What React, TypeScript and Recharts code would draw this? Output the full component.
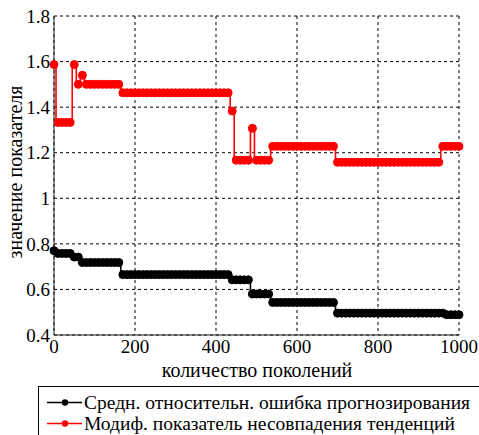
import React from 'react';
import { LineChart, Line, XAxis, YAxis, CartesianGrid, Legend } from 'recharts';

const FONT = 'Liberation Serif';
const TICK_FS = 19;
const LABEL_FS = 20;
const LEGEND_FS = 19.5;

// generation numbers (x categories)
const GENERATIONS = [
  0, 10, 20, 30, 40, 50, 60, 70, 80, 90,
  100, 110, 120, 130, 140, 150, 160, 170, 180, 190,
  200, 210, 220, 230, 240, 250, 260, 270, 280, 290,
  300, 310, 320, 330, 340, 350, 360, 370, 380, 390,
  400, 410, 420, 430, 440, 450, 460, 470, 480, 490,
  500, 510, 520, 530, 540, 550, 560, 570, 580, 590,
  600, 610, 620, 630, 640, 650, 660, 670, 680, 690,
  700, 710, 720, 730, 740, 750, 760, 770, 780, 790,
  800, 810, 820, 830, 840, 850, 860, 870, 880, 890,
  900, 910, 920, 930, 940, 950, 960, 970, 980, 990,
  1000,
];

// Средн. относительн. ошибка прогнозирования (black)
const ERROR_VALUES = [
  0.77, 0.758, 0.758, 0.758, 0.758, 0.742, 0.742, 0.718, 0.718, 0.718,
  0.718, 0.718, 0.718, 0.718, 0.718, 0.718, 0.718, 0.665, 0.665, 0.665,
  0.665, 0.665, 0.665, 0.665, 0.665, 0.665, 0.665, 0.665, 0.665, 0.665,
  0.665, 0.665, 0.665, 0.665, 0.665, 0.665, 0.665, 0.665, 0.665, 0.665,
  0.665, 0.665, 0.665, 0.665, 0.642, 0.642, 0.642, 0.642, 0.642, 0.58,
  0.58, 0.58, 0.58, 0.58, 0.543, 0.543, 0.543, 0.543, 0.543, 0.543,
  0.543, 0.543, 0.543, 0.543, 0.543, 0.543, 0.543, 0.543, 0.543, 0.543,
  0.496, 0.496, 0.496, 0.496, 0.496, 0.496, 0.496, 0.496, 0.496, 0.496,
  0.496, 0.496, 0.496, 0.496, 0.496, 0.496, 0.496, 0.496, 0.496, 0.496,
  0.496, 0.496, 0.496, 0.496, 0.496, 0.496, 0.496, 0.489, 0.489, 0.489,
  0.489,
];

// Модиф. показатель несовпадения тенденций (red)
const MISMATCH_VALUES = [
  1.587, 1.333, 1.333, 1.333, 1.333, 1.587, 1.5, 1.54, 1.5, 1.5,
  1.5, 1.5, 1.5, 1.5, 1.5, 1.5, 1.5, 1.463, 1.463, 1.463,
  1.463, 1.463, 1.463, 1.463, 1.463, 1.463, 1.463, 1.463, 1.463, 1.463,
  1.463, 1.463, 1.463, 1.463, 1.463, 1.463, 1.463, 1.463, 1.463, 1.463,
  1.463, 1.463, 1.463, 1.463, 1.383, 1.167, 1.167, 1.167, 1.167, 1.307,
  1.167, 1.167, 1.167, 1.167, 1.228, 1.228, 1.228, 1.228, 1.228, 1.228,
  1.228, 1.228, 1.228, 1.228, 1.228, 1.228, 1.228, 1.228, 1.228, 1.228,
  1.158, 1.158, 1.158, 1.158, 1.158, 1.158, 1.158, 1.158, 1.158, 1.158,
  1.158, 1.158, 1.158, 1.158, 1.158, 1.158, 1.158, 1.158, 1.158, 1.158,
  1.158, 1.158, 1.158, 1.158, 1.158, 1.158, 1.228, 1.228, 1.228, 1.228,
  1.228,
];

const X_TICKS = [0, 200, 400, 600, 800, 1000];
const Y_TICKS = [0.4, 0.6, 0.8, 1, 1.2, 1.4, 1.6, 1.8];

const SERIES_NAMES = [
  'Средн. относительн. ошибка прогнозирования',
  'Модиф. показатель несовпадения тенденций',
];
const SERIES_KEYS = ['err', 'mis'];
const SERIES_COLORS = ['#000000', '#ff0000'];

const X_LABEL = 'количество поколений';
const Y_LABEL = 'значение показателя';

const data = GENERATIONS.map((g, i) => ({
  gen: g,
  err: ERROR_VALUES[i],
  mis: MISMATCH_VALUES[i],
}));

const tickStyle = { fill: '#000', fontSize: TICK_FS, fontFamily: FONT };

const LegendBox = () => (
  <div
    style={{
      border: '1px solid #000',
      paddingTop: 5,
      paddingBottom: 12,
      background: '#fff',
      fontFamily: FONT,
      fontSize: LEGEND_FS,
      color: '#000',
    }}
  >
    {SERIES_NAMES.map((name, i) => (
      <div
        key={name}
        style={{ display: 'flex', alignItems: 'center', height: 21, paddingLeft: 8 }}
      >
        <svg width={37} height={21} style={{ flex: 'none' }}>
          <line x1={0} y1={10.5} x2={35} y2={10.5} stroke={SERIES_COLORS[i]} strokeWidth={1.5} />
          <circle cx={18} cy={10.5} r={3.2} fill={SERIES_COLORS[i]} />
        </svg>
        <span style={{ whiteSpace: 'nowrap', lineHeight: '21px', fontFamily: FONT }}>{name}</span>
      </div>
    ))}
  </div>
);

export default function App() {
  return (
    <div
      style={{
        position: 'absolute',
        left: 0,
        top: 0,
        width: 479,
        height: 435,
        overflow: 'hidden',
        background: '#fff',
        fontFamily: FONT,
      }}
    >
      <LineChart
        width={479}
        height={435}
        data={data}
        margin={{ top: 16, right: 20, bottom: 70, left: 0 }}
      >
        <CartesianGrid stroke="#000" strokeDasharray="3 3" strokeWidth={1} />
        <XAxis
          dataKey="gen"
          type="number"
          domain={[0, 1000]}
          ticks={X_TICKS}
          height={30}
          tickSize={0}
          tickMargin={5}
          tickLine={false}
          axisLine={{ stroke: '#222', strokeWidth: 1 }}
          tick={tickStyle}
          interval={0}
          label={{
            content: () => (
              <text
                x={257}
                y={376.5}
                textAnchor="middle"
                fontFamily={FONT}
                fontSize={LABEL_FS}
                fill="#000"
              >
                {X_LABEL}
              </text>
            ),
          }}
        />
        <XAxis
          xAxisId="top"
          orientation="top"
          type="number"
          domain={[0, 1000]}
          height={0}
          tick={false}
          tickLine={false}
          axisLine={{ stroke: '#444', strokeWidth: 1 }}
        />
        <YAxis
          type="number"
          domain={[0.4, 1.8]}
          ticks={Y_TICKS}
          width={54}
          tickSize={0}
          tickMargin={4}
          tickLine={false}
          axisLine={{ stroke: '#222', strokeWidth: 1 }}
          tick={tickStyle}
          interval={0}
          tickFormatter={(v: number) => String(Number(v.toFixed(1)))}
          label={{
            content: () => (
              <text
                x={21.5}
                y={172}
                transform="rotate(-90 21.5 172)"
                textAnchor="middle"
                fontFamily={FONT}
                fontSize={LABEL_FS}
                fill="#000"
              >
                {Y_LABEL}
              </text>
            ),
          }}
        />
        <YAxis
          yAxisId="right"
          orientation="right"
          type="number"
          domain={[0.4, 1.8]}
          width={0}
          tick={false}
          tickLine={false}
          axisLine={{ stroke: '#444', strokeWidth: 1 }}
        />
        {SERIES_KEYS.map((k, i) => (
          <Line
            key={k}
            type="step"
            dataKey={k}
            name={SERIES_NAMES[i]}
            stroke={SERIES_COLORS[i]}
            strokeWidth={1.6}
            dot={{ r: 4, fill: SERIES_COLORS[i], stroke: SERIES_COLORS[i], strokeWidth: 1 }}
            activeDot={false}
            isAnimationActive={false}
          />
        ))}
        <Legend
          layout="vertical"
          align="center"
          verticalAlign="middle"
          wrapperStyle={{ left: 38, top: 386, width: 470 }}
          content={() => <LegendBox />}
        />
      </LineChart>
    </div>
  );
}
